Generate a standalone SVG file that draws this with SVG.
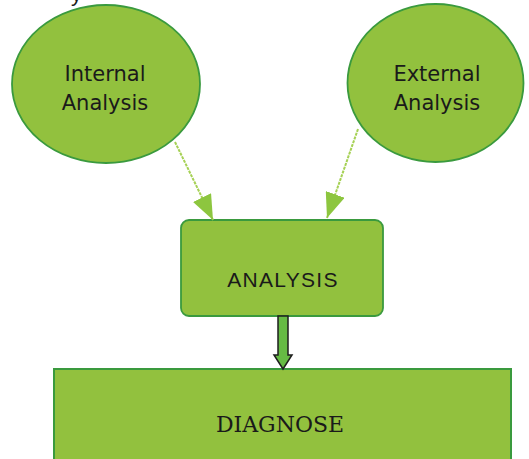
<svg xmlns="http://www.w3.org/2000/svg" width="529" height="459" viewBox="0 0 529 459">
  <style>
    .shape { fill: #92c13e; stroke: #3a9a3e; stroke-width: 1.8; }
    .label { fill: #1a1a1a; text-anchor: middle; }
    .oval { font-family: "DejaVu Sans", "Liberation Sans", sans-serif; font-size: 21px; }
    .mid { font-family: "Liberation Sans", Arial, sans-serif; font-size: 21px; letter-spacing: 1.3px; }
    .serif { font-family: "DejaVu Serif", "Liberation Serif", serif; font-size: 22px; }
    .feed { stroke: #a6d155; stroke-width: 2; fill: none; stroke-dasharray: 3 1; marker-end: url(#head); }
    .flow { fill: #66bb44; stroke: #1e1e1e; stroke-width: 1.5; stroke-linejoin: miter; }
  </style>
  <defs>
    <marker id="head" markerUnits="userSpaceOnUse" markerWidth="25" markerHeight="20" refX="25" refY="10" orient="auto">
      <path d="M0,0 L25,10 L0,20 z" fill="#8dc63f"/>
    </marker>
  </defs>

  <rect width="529" height="459" fill="#ffffff"/>

  <!-- descender of a line of text above the visible area -->
  <text x="71" y="1" font-family="Liberation Sans, Arial, sans-serif" font-size="22" fill="#1a1a1a">y</text>

  <g id="internal-analysis">
    <ellipse class="shape" cx="106" cy="84" rx="94" ry="79"/>
    <text class="label oval" x="105" y="81">Internal</text>
    <text class="label oval" x="105" y="110">Analysis</text>
  </g>

  <g id="external-analysis">
    <ellipse class="shape" cx="435.5" cy="83" rx="88" ry="79"/>
    <text class="label oval" x="437" y="81">External</text>
    <text class="label oval" x="437" y="110">Analysis</text>
  </g>

  <g id="analysis">
    <rect class="shape" x="181" y="220" width="202" height="96" rx="8"/>
    <text class="label mid" x="283" y="287">ANALYSIS</text>
  </g>

  <g id="diagnose">
    <rect class="shape" x="54" y="369" width="457" height="100" style="stroke-width:2"/>
    <text class="label serif" x="280" y="432">DIAGNOSE</text>
  </g>

  <g id="connectors">
    <line class="feed" x1="175" y1="142" x2="213" y2="220"/>
    <line class="feed" x1="358" y1="129" x2="327" y2="218"/>
    <polygon class="flow" points="278,316 288,316 288,355 292,355 283,369 274,355 278,355"/>
  </g>
</svg>
